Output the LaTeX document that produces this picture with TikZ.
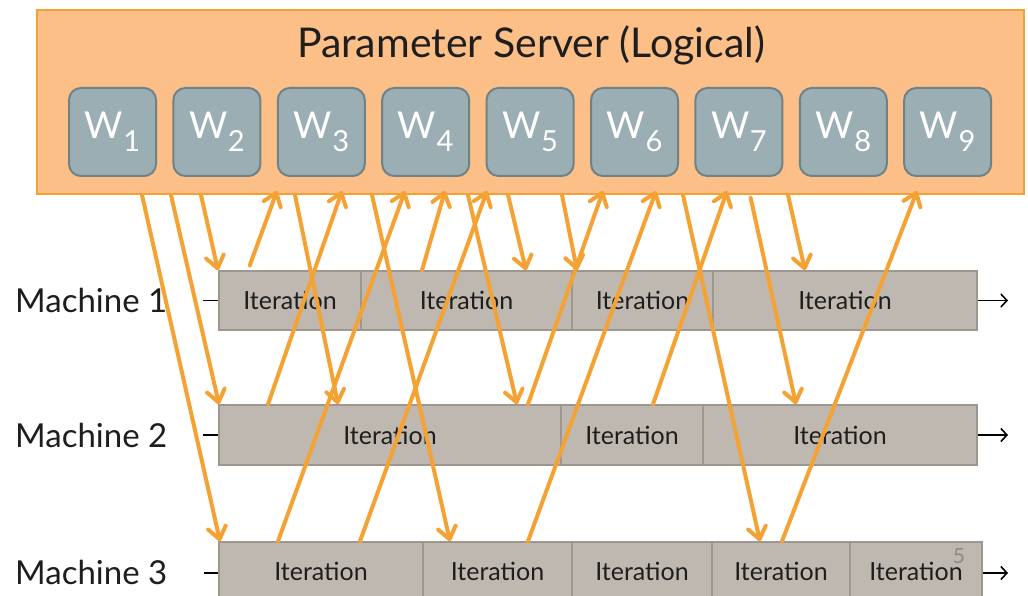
\documentclass[tikz,border=0pt]{standalone}
\usepackage{fontspec}
\setmainfont{Lato}
\usetikzlibrary{arrows.meta}

\definecolor{psfill}{RGB}{251,191,135}
\definecolor{psline}{RGB}{244,160,50}
\definecolor{flow}{RGB}{244,162,52}
\definecolor{wfill}{RGB}{155,174,179}
\definecolor{wline}{RGB}{110,130,135}
\definecolor{barfill}{RGB}{190,184,176}
\definecolor{barline}{RGB}{158,151,143}
\definecolor{ink}{RGB}{30,30,30}
\definecolor{pagenum}{RGB}{140,140,140}

% weight label: W with a lowered index
\newcommand\wlabel[1]{W\kern0.5pt\raisebox{-13pt}{\fontsize{29}{29}\selectfont #1}}
% one iteration block: name, left x, right x, centre y, height
\newcommand\iterblock[5]{\node[iter, minimum width={(#3-#2)*1pt}, minimum height=#5pt] (#1) at ({(#2+#3)/2},#4) {Iteration};}
% pull: server edge x -> block, landing x
\newcommand\pullarrow[3]{\draw[flowline] (ps.south -| #1,0) -- (#2.north -| #3,0);}
% push: block, start x -> server edge x
\newcommand\pusharrow[3]{\draw[flowline] (#1.north -| #2,0) -- (psin -| #3,0);}

\begin{document}
\begin{tikzpicture}[x=1pt,y=-1pt,
  psbox/.style={draw=psline, line width=2pt, fill=psfill, minimum width=987pt, minimum height=184pt, inner sep=0pt},
  wbox/.style={draw=wline, line width=2pt, fill=wfill, rounded corners=12pt, minimum width=87pt, minimum height=88pt, text=white, inner sep=0pt, font=\fontsize{37}{37}\selectfont},
  iter/.style={draw=barline, line width=1.5pt, fill=barfill, inner sep=0pt, text=ink, font=\fontsize{25}{25}\selectfont},
  machine/.style={anchor=base west, inner sep=0pt, text=ink, font=\fontsize{33}{33}\selectfont},
  axis/.style={line width=1.6pt, draw=black, -{Straight Barb[length=6pt,width=13pt]}},
  flowline/.style={draw=flow, line width=4pt, line cap=round, -{Straight Barb[length=12pt,width=18pt,line cap=round,line join=round]}},
]
\useasboundingbox (0,0) rectangle (1028,596);

% parameter server
\node[psbox] (ps) at (530.5,102) {};
\coordinate (psin) at ([yshift=4pt]ps.south);
\node[inner sep=0pt, text=ink, font=\fontsize{41}{41}\selectfont] (title) at (531,45) {Parameter Server (Logical)};
\foreach \i in {1,...,9}
  \node[wbox] (w\i) at ({112.5+104.4*(\i-1)},132) {\wlabel{\i}};

% time axes
\coordinate (t1s) at (203,300.5); \coordinate (t1e) at (1008,300.5);
\coordinate (t2s) at (203,435);   \coordinate (t2e) at (1008,435);
\coordinate (t3s) at (204,573);   \coordinate (t3e) at (1008,573);
\draw[axis] (t1s) -- (t1e);
\draw[axis] (t2s) -- (t2e);
\draw[axis] (t3s) -- (t3e);

% machine 1
\iterblock{m1a}{219}{361}{300.5}{59}
\iterblock{m1b}{361}{572}{300.5}{59}
\iterblock{m1c}{572}{713}{300.5}{59}
\iterblock{m1d}{713}{977}{300.5}{59}
% machine 2
\iterblock{m2a}{219}{561}{435}{60}
\iterblock{m2b}{561}{703}{435}{60}
\iterblock{m2c}{703}{977}{435}{60}
% machine 3
\iterblock{m3a}{219}{423}{571}{58}
\iterblock{m3b}{423}{572}{571}{58}
\iterblock{m3c}{572}{712}{571}{58}
\iterblock{m3d}{712}{850}{571}{58}
\iterblock{m3e}{850}{982}{571}{58}

\node[machine] (lab1) at (15,312) {Machine 1};
\node[machine] (lab2) at (15,447) {Machine 2};
\node[machine] (lab3) at (15,584) {Machine 3};

\node[inner sep=0pt, text=pagenum, font=\fontsize{21}{21}\selectfont] (page) at (959,556) {5};

% parameter reads
\pullarrow{142}{m3a}{220}
\pullarrow{171}{m2a}{219}
\pullarrow{201}{m1a}{218}
\pullarrow{295}{m2a}{338}
\pullarrow{372}{m3b}{450}
\pullarrow{468}{m2a}{517}
\pullarrow{508}{m1b}{526}
\pullarrow{562}{m1c}{577}
\pullarrow{683}{m3d}{760}
\draw[flowline, shorten <=3pt] (ps.south -| 750,0) -- (m2c.north -| 796,0);
\pullarrow{788}{m1d}{805}

% update pushes
\draw[flowline, shorten <=5pt] (m1a.north -| 248,0) -- (psin -| 277,0);
\pusharrow{m2a}{268}{342}
\pusharrow{m3a}{278}{405}
\pusharrow{m1b}{422}{445}
\pusharrow{m3a}{360}{487}
\pusharrow{m2a}{528}{603}
\pusharrow{m3b}{528}{656}
\pusharrow{m2b}{653}{727}
\pusharrow{m3d}{782}{917}
\end{tikzpicture}
\end{document}
